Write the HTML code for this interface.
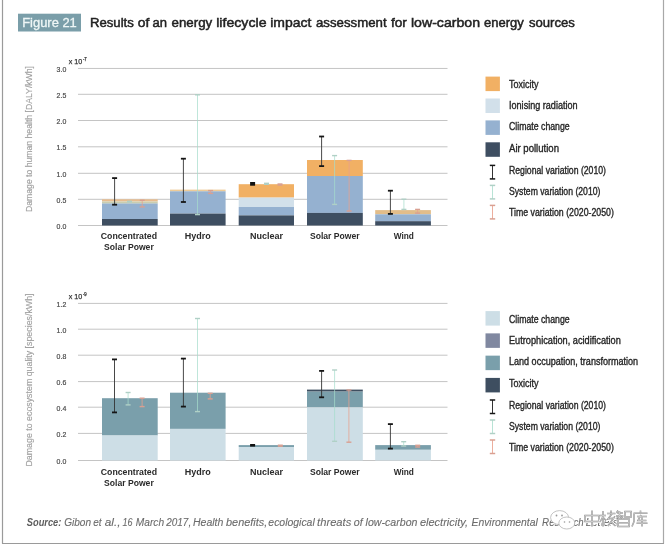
<!DOCTYPE html>
<html><head><meta charset="utf-8"><style>
html,body{margin:0;padding:0;background:#fff;width:668px;height:549px;overflow:hidden}
svg{display:block;font-family:"Liberation Sans", sans-serif;will-change:transform}
</style></head><body>
<svg width="668" height="549" viewBox="0 0 668 549">
<line x1="2.5" y1="0" x2="2.5" y2="543.5" stroke="#9a9a9a" stroke-width="1.2"/>
<line x1="663.5" y1="0" x2="663.5" y2="543.5" stroke="#a8a8a8" stroke-width="1.2"/>
<line x1="2" y1="543.5" x2="664" y2="543.5" stroke="#9a9a9a" stroke-width="1.2"/>
<rect x="18" y="13.7" width="63" height="17.8" fill="#7A9EA9"/>
<text x="22.2" y="26.6" font-size="13" font-weight="normal" font-style="normal" fill="#EEF6F6" text-anchor="start" textLength="54.6" lengthAdjust="spacingAndGlyphs" stroke="#EEF6F6" stroke-width="0.3">Figure 21</text>
<text x="89.9" y="26.7" font-size="13.7" font-weight="normal" font-style="normal" fill="#222" text-anchor="start" textLength="43.91" lengthAdjust="spacingAndGlyphs" stroke="#222" stroke-width="0.5">Results</text>
<text x="137.7" y="26.7" font-size="13.7" font-weight="normal" font-style="normal" fill="#222" text-anchor="start" textLength="11.54" lengthAdjust="spacingAndGlyphs" stroke="#222" stroke-width="0.5">of</text>
<text x="152.53" y="26.7" font-size="13.7" font-weight="normal" font-style="normal" fill="#222" text-anchor="start" textLength="14.5" lengthAdjust="spacingAndGlyphs" stroke="#222" stroke-width="0.5">an</text>
<text x="171.52" y="26.7" font-size="13.7" font-weight="normal" font-style="normal" fill="#222" text-anchor="start" textLength="40.7" lengthAdjust="spacingAndGlyphs" stroke="#222" stroke-width="0.5">energy</text>
<text x="216.23" y="26.7" font-size="13.7" font-weight="normal" font-style="normal" fill="#222" text-anchor="start" textLength="50.28" lengthAdjust="spacingAndGlyphs" stroke="#222" stroke-width="0.5">lifecycle</text>
<text x="270.24" y="26.7" font-size="13.7" font-weight="normal" font-style="normal" fill="#222" text-anchor="start" textLength="41.18" lengthAdjust="spacingAndGlyphs" stroke="#222" stroke-width="0.5">impact</text>
<text x="316.02" y="26.7" font-size="13.7" font-weight="normal" font-style="normal" fill="#222" text-anchor="start" textLength="70.6" lengthAdjust="spacingAndGlyphs" stroke="#222" stroke-width="0.5">assessment</text>
<text x="390.95" y="26.7" font-size="13.7" font-weight="normal" font-style="normal" fill="#222" text-anchor="start" textLength="15.94" lengthAdjust="spacingAndGlyphs" stroke="#222" stroke-width="0.5">for</text>
<text x="410.93" y="26.7" font-size="13.7" font-weight="normal" font-style="normal" fill="#222" text-anchor="start" textLength="69.16" lengthAdjust="spacingAndGlyphs" stroke="#222" stroke-width="0.5">low-carbon</text>
<text x="484.03" y="26.7" font-size="13.7" font-weight="normal" font-style="normal" fill="#222" text-anchor="start" textLength="39.79" lengthAdjust="spacingAndGlyphs" stroke="#222" stroke-width="0.5">energy</text>
<text x="528.96" y="26.7" font-size="13.7" font-weight="normal" font-style="normal" fill="#222" text-anchor="start" textLength="45.97" lengthAdjust="spacingAndGlyphs" stroke="#222" stroke-width="0.5">sources</text>
<line x1="78" y1="225.5" x2="447.5" y2="225.5" stroke="#C4C4C4" stroke-width="1"/>
<text x="66.3" y="228.8" font-size="7.6" font-weight="normal" font-style="normal" fill="#4a4a4a" text-anchor="end" textLength="9.7" lengthAdjust="spacingAndGlyphs" stroke="#4a4a4a" stroke-width="0.2">0.0</text>
<line x1="78" y1="199.3" x2="447.5" y2="199.3" stroke="#C4C4C4" stroke-width="1"/>
<text x="66.3" y="202.60000000000002" font-size="7.6" font-weight="normal" font-style="normal" fill="#4a4a4a" text-anchor="end" textLength="9.7" lengthAdjust="spacingAndGlyphs" stroke="#4a4a4a" stroke-width="0.2">0.5</text>
<line x1="78" y1="173.3" x2="447.5" y2="173.3" stroke="#C4C4C4" stroke-width="1"/>
<text x="66.3" y="176.60000000000002" font-size="7.6" font-weight="normal" font-style="normal" fill="#4a4a4a" text-anchor="end" textLength="9.7" lengthAdjust="spacingAndGlyphs" stroke="#4a4a4a" stroke-width="0.2">1.0</text>
<line x1="78" y1="146.8" x2="447.5" y2="146.8" stroke="#C4C4C4" stroke-width="1"/>
<text x="66.3" y="150.10000000000002" font-size="7.6" font-weight="normal" font-style="normal" fill="#4a4a4a" text-anchor="end" textLength="9.7" lengthAdjust="spacingAndGlyphs" stroke="#4a4a4a" stroke-width="0.2">1.5</text>
<line x1="78" y1="120.5" x2="447.5" y2="120.5" stroke="#C4C4C4" stroke-width="1"/>
<text x="66.3" y="123.8" font-size="7.6" font-weight="normal" font-style="normal" fill="#4a4a4a" text-anchor="end" textLength="9.7" lengthAdjust="spacingAndGlyphs" stroke="#4a4a4a" stroke-width="0.2">2.0</text>
<line x1="78" y1="94.3" x2="447.5" y2="94.3" stroke="#C4C4C4" stroke-width="1"/>
<text x="66.3" y="97.6" font-size="7.6" font-weight="normal" font-style="normal" fill="#4a4a4a" text-anchor="end" textLength="9.7" lengthAdjust="spacingAndGlyphs" stroke="#4a4a4a" stroke-width="0.2">2.5</text>
<line x1="78" y1="68.45" x2="447.5" y2="68.45" stroke="#C4C4C4" stroke-width="1"/>
<text x="66.3" y="71.75" font-size="7.6" font-weight="normal" font-style="normal" fill="#4a4a4a" text-anchor="end" textLength="9.7" lengthAdjust="spacingAndGlyphs" stroke="#4a4a4a" stroke-width="0.2">3.0</text>
<text x="68.7" y="64.45" font-size="7.6" font-weight="normal" font-style="normal" fill="#333" text-anchor="start" textLength="13.5" lengthAdjust="spacingAndGlyphs" stroke="#333" stroke-width="0.25">x 10</text>
<text x="82.9" y="61.050000000000004" font-size="5" font-weight="normal" font-style="normal" fill="#333" text-anchor="start" textLength="3.8" lengthAdjust="spacingAndGlyphs" stroke="#333" stroke-width="0.25">-7</text>
<text transform="translate(31.9,139.0) rotate(-90)" x="0" y="0" font-size="9.5" fill="#A0A0A0" stroke="#A0A0A0" stroke-width="0.15" text-anchor="middle" textLength="146" lengthAdjust="spacingAndGlyphs">Damage to human health [DALY/kWh]</text>
<rect x="102.0" y="199.3" width="55.7" height="2.1999999999999886" fill="#E8BC8E"/>
<rect x="102.0" y="201.5" width="55.7" height="2.0999999999999943" fill="#C9CDB0"/>
<rect x="102.0" y="203.5" width="55.7" height="15.5" fill="#95B1D0"/>
<rect x="102.0" y="219.0" width="55.7" height="6.5" fill="#3E4E61"/>
<rect x="170.0" y="189.6" width="55.6" height="1.8000000000000114" fill="#EDCB98"/>
<rect x="170.0" y="191.3" width="55.6" height="22.299999999999983" fill="#95B1D0"/>
<rect x="170.0" y="213.6" width="55.6" height="11.900000000000006" fill="#3E4E61"/>
<rect x="238.7" y="184.2" width="55.3" height="13.400000000000006" fill="#F1B064"/>
<rect x="238.7" y="197.6" width="55.3" height="9.400000000000006" fill="#D2E0EA"/>
<rect x="238.7" y="207.0" width="55.3" height="8.400000000000006" fill="#95B1D0"/>
<rect x="238.7" y="215.4" width="55.3" height="10.099999999999994" fill="#3E4E61"/>
<rect x="307.0" y="160.0" width="55.8" height="16.0" fill="#F1B064"/>
<rect x="307.0" y="176.0" width="55.8" height="36.900000000000006" fill="#95B1D0"/>
<rect x="307.0" y="212.9" width="55.8" height="12.599999999999994" fill="#3E4E61"/>
<rect x="375.2" y="210.1" width="55.7" height="4.200000000000017" fill="#E2BD8A"/>
<rect x="375.2" y="214.3" width="55.7" height="6.899999999999977" fill="#95B1D0"/>
<rect x="375.2" y="221.2" width="55.7" height="4.300000000000011" fill="#3E4E61"/>
<line x1="114.6" y1="178.1" x2="114.6" y2="204.7" stroke="#333333" stroke-width="0.9" stroke-opacity="1"/>
<line x1="112.1" y1="178.1" x2="117.1" y2="178.1" stroke="#151515" stroke-width="1.8"/>
<line x1="112.1" y1="204.7" x2="117.1" y2="204.7" stroke="#151515" stroke-width="1.8"/>
<line x1="129.5" y1="201.3" x2="129.5" y2="202.0" stroke="#A6DCCB" stroke-width="0.9" stroke-opacity="0.8"/>
<line x1="127.0" y1="201.3" x2="132.0" y2="201.3" stroke="#B0D0C6" stroke-width="1.4"/>
<line x1="127.0" y1="202.0" x2="132.0" y2="202.0" stroke="#B0D0C6" stroke-width="1.4"/>
<line x1="142.2" y1="200.3" x2="142.2" y2="206.9" stroke="#E9A08C" stroke-width="0.9" stroke-opacity="0.85"/>
<line x1="139.7" y1="200.3" x2="144.7" y2="200.3" stroke="#D9A092" stroke-width="1.4"/>
<line x1="139.7" y1="206.9" x2="144.7" y2="206.9" stroke="#D9A092" stroke-width="1.4"/>
<line x1="183.4" y1="158.7" x2="183.4" y2="202.0" stroke="#333333" stroke-width="0.9" stroke-opacity="1"/>
<line x1="180.9" y1="158.7" x2="185.9" y2="158.7" stroke="#151515" stroke-width="1.8"/>
<line x1="180.9" y1="202.0" x2="185.9" y2="202.0" stroke="#151515" stroke-width="1.8"/>
<line x1="197.5" y1="94.8" x2="197.5" y2="214.6" stroke="#A6DCCB" stroke-width="0.9" stroke-opacity="0.8"/>
<line x1="195.0" y1="94.8" x2="200.0" y2="94.8" stroke="#B0D0C6" stroke-width="1.4"/>
<line x1="195.0" y1="214.6" x2="200.0" y2="214.6" stroke="#B0D0C6" stroke-width="1.4"/>
<line x1="210.6" y1="190.6" x2="210.6" y2="193.4" stroke="#E9A08C" stroke-width="0.9" stroke-opacity="0.85"/>
<line x1="208.1" y1="190.6" x2="213.1" y2="190.6" stroke="#D9A092" stroke-width="1.4"/>
<line x1="208.1" y1="193.4" x2="213.1" y2="193.4" stroke="#D9A092" stroke-width="1.4"/>
<rect x="250.1" y="182.0" width="5" height="3.7" fill="#111"/>
<line x1="266.5" y1="183.3" x2="266.5" y2="184.3" stroke="#A6DCCB" stroke-width="0.9" stroke-opacity="0.8"/>
<line x1="264.0" y1="183.3" x2="269.0" y2="183.3" stroke="#B0D0C6" stroke-width="1.4"/>
<line x1="264.0" y1="184.3" x2="269.0" y2="184.3" stroke="#B0D0C6" stroke-width="1.4"/>
<line x1="280.0" y1="184.0" x2="280.0" y2="185.0" stroke="#E9A08C" stroke-width="0.9" stroke-opacity="0.85"/>
<line x1="277.5" y1="184.0" x2="282.5" y2="184.0" stroke="#D9A092" stroke-width="1.4"/>
<line x1="277.5" y1="185.0" x2="282.5" y2="185.0" stroke="#D9A092" stroke-width="1.4"/>
<line x1="321.6" y1="136.5" x2="321.6" y2="166.1" stroke="#333333" stroke-width="0.9" stroke-opacity="1"/>
<line x1="319.1" y1="136.5" x2="324.1" y2="136.5" stroke="#151515" stroke-width="1.8"/>
<line x1="319.1" y1="166.1" x2="324.1" y2="166.1" stroke="#151515" stroke-width="1.8"/>
<line x1="334.6" y1="155.6" x2="334.6" y2="204.4" stroke="#A6DCCB" stroke-width="0.9" stroke-opacity="0.8"/>
<line x1="332.1" y1="155.6" x2="337.1" y2="155.6" stroke="#B0D0C6" stroke-width="1.4"/>
<line x1="332.1" y1="204.4" x2="337.1" y2="204.4" stroke="#B0D0C6" stroke-width="1.4"/>
<line x1="349.1" y1="160.4" x2="349.1" y2="211.0" stroke="#E9A08C" stroke-width="0.9" stroke-opacity="0.85"/>
<line x1="346.6" y1="160.4" x2="351.6" y2="160.4" stroke="#D9A092" stroke-width="1.4"/>
<line x1="346.6" y1="211.0" x2="351.6" y2="211.0" stroke="#D9A092" stroke-width="1.4"/>
<line x1="390.4" y1="190.7" x2="390.4" y2="213.9" stroke="#333333" stroke-width="0.9" stroke-opacity="1"/>
<line x1="387.9" y1="190.7" x2="392.9" y2="190.7" stroke="#151515" stroke-width="1.8"/>
<line x1="387.9" y1="213.9" x2="392.9" y2="213.9" stroke="#151515" stroke-width="1.8"/>
<line x1="403.9" y1="199.2" x2="403.9" y2="209.4" stroke="#A6DCCB" stroke-width="0.9" stroke-opacity="0.8"/>
<line x1="401.4" y1="199.2" x2="406.4" y2="199.2" stroke="#B0D0C6" stroke-width="1.4"/>
<line x1="401.4" y1="209.4" x2="406.4" y2="209.4" stroke="#B0D0C6" stroke-width="1.4"/>
<line x1="417.6" y1="209.4" x2="417.6" y2="213.1" stroke="#E9A08C" stroke-width="0.9" stroke-opacity="0.85"/>
<line x1="415.1" y1="209.4" x2="420.1" y2="209.4" stroke="#D9A092" stroke-width="1.4"/>
<line x1="415.1" y1="213.1" x2="420.1" y2="213.1" stroke="#D9A092" stroke-width="1.4"/>
<text x="128.9" y="238.8" font-size="9.3" font-weight="bold" font-style="normal" fill="#2a2a2a" text-anchor="middle" textLength="56.3" lengthAdjust="spacingAndGlyphs">Concentrated</text>
<text x="128.9" y="249.5" font-size="9.3" font-weight="bold" font-style="normal" fill="#2a2a2a" text-anchor="middle" textLength="49.7" lengthAdjust="spacingAndGlyphs">Solar Power</text>
<text x="197.8" y="238.8" font-size="9.3" font-weight="bold" font-style="normal" fill="#2a2a2a" text-anchor="middle" textLength="26" lengthAdjust="spacingAndGlyphs">Hydro</text>
<text x="266.5" y="238.8" font-size="9.3" font-weight="bold" font-style="normal" fill="#2a2a2a" text-anchor="middle" textLength="33" lengthAdjust="spacingAndGlyphs">Nuclear</text>
<text x="334.8" y="238.8" font-size="9.3" font-weight="bold" font-style="normal" fill="#2a2a2a" text-anchor="middle" textLength="49.7" lengthAdjust="spacingAndGlyphs">Solar Power</text>
<text x="403.8" y="238.8" font-size="9.3" font-weight="bold" font-style="normal" fill="#2a2a2a" text-anchor="middle" textLength="20.2" lengthAdjust="spacingAndGlyphs">Wind</text>
<rect x="485.5" y="76.6" width="14.4" height="14.5" fill="#F1B064"/>
<text x="509" y="87.7" font-size="10.1" font-weight="normal" font-style="normal" fill="#262626" text-anchor="start" textLength="29.6" lengthAdjust="spacingAndGlyphs" stroke="#262626" stroke-width="0.35">Toxicity</text>
<rect x="485.5" y="98.5" width="14.4" height="14.5" fill="#D2E0EA"/>
<text x="509" y="109.07000000000001" font-size="10.1" font-weight="normal" font-style="normal" fill="#262626" text-anchor="start" textLength="68.6" lengthAdjust="spacingAndGlyphs" stroke="#262626" stroke-width="0.35">Ionising radiation</text>
<rect x="485.5" y="120.39999999999999" width="14.4" height="14.5" fill="#95B1D0"/>
<text x="509" y="130.44" font-size="10.1" font-weight="normal" font-style="normal" fill="#262626" text-anchor="start" textLength="60.7" lengthAdjust="spacingAndGlyphs" stroke="#262626" stroke-width="0.35">Climate change</text>
<rect x="485.5" y="142.29999999999998" width="14.4" height="14.5" fill="#3E4E61"/>
<text x="509" y="151.81" font-size="10.1" font-weight="normal" font-style="normal" fill="#262626" text-anchor="start" textLength="50" lengthAdjust="spacingAndGlyphs" stroke="#262626" stroke-width="0.35">Air pollution</text>
<line x1="492.5" y1="165.4" x2="492.5" y2="178.9" stroke="#333333" stroke-width="1.0" stroke-opacity="1"/>
<line x1="489.8" y1="165.4" x2="495.2" y2="165.4" stroke="#151515" stroke-width="1.5"/>
<line x1="489.8" y1="178.9" x2="495.2" y2="178.9" stroke="#151515" stroke-width="1.5"/>
<text x="509" y="173.8" font-size="10.1" font-weight="normal" font-style="normal" fill="#262626" text-anchor="start" textLength="97" lengthAdjust="spacingAndGlyphs" stroke="#262626" stroke-width="0.35">Regional variation (2010)</text>
<line x1="492.5" y1="185.4" x2="492.5" y2="198.9" stroke="#A6DCCB" stroke-width="1.0" stroke-opacity="0.8"/>
<line x1="489.8" y1="185.4" x2="495.2" y2="185.4" stroke="#B0D0C6" stroke-width="1.5"/>
<line x1="489.8" y1="198.9" x2="495.2" y2="198.9" stroke="#B0D0C6" stroke-width="1.5"/>
<text x="509" y="194.75" font-size="10.1" font-weight="normal" font-style="normal" fill="#262626" text-anchor="start" textLength="91.4" lengthAdjust="spacingAndGlyphs" stroke="#262626" stroke-width="0.35">System variation (2010)</text>
<line x1="492.5" y1="205.4" x2="492.5" y2="218.9" stroke="#E9A08C" stroke-width="1.0" stroke-opacity="0.85"/>
<line x1="489.8" y1="205.4" x2="495.2" y2="205.4" stroke="#D9A092" stroke-width="1.5"/>
<line x1="489.8" y1="218.9" x2="495.2" y2="218.9" stroke="#D9A092" stroke-width="1.5"/>
<text x="509" y="215.70000000000002" font-size="10.1" font-weight="normal" font-style="normal" fill="#262626" text-anchor="start" textLength="104.9" lengthAdjust="spacingAndGlyphs" stroke="#262626" stroke-width="0.35">Time variation (2020-2050)</text>
<line x1="78" y1="460.5" x2="447.5" y2="460.5" stroke="#C4C4C4" stroke-width="1"/>
<text x="66.3" y="463.8" font-size="7.6" font-weight="normal" font-style="normal" fill="#4a4a4a" text-anchor="end" textLength="9.7" lengthAdjust="spacingAndGlyphs" stroke="#4a4a4a" stroke-width="0.2">0.0</text>
<line x1="78" y1="433.4" x2="447.5" y2="433.4" stroke="#C4C4C4" stroke-width="1"/>
<text x="66.3" y="436.7" font-size="7.6" font-weight="normal" font-style="normal" fill="#4a4a4a" text-anchor="end" textLength="9.7" lengthAdjust="spacingAndGlyphs" stroke="#4a4a4a" stroke-width="0.2">0.2</text>
<line x1="78" y1="407.2" x2="447.5" y2="407.2" stroke="#C4C4C4" stroke-width="1"/>
<text x="66.3" y="410.5" font-size="7.6" font-weight="normal" font-style="normal" fill="#4a4a4a" text-anchor="end" textLength="9.7" lengthAdjust="spacingAndGlyphs" stroke="#4a4a4a" stroke-width="0.2">0.4</text>
<line x1="78" y1="381.6" x2="447.5" y2="381.6" stroke="#C4C4C4" stroke-width="1"/>
<text x="66.3" y="384.90000000000003" font-size="7.6" font-weight="normal" font-style="normal" fill="#4a4a4a" text-anchor="end" textLength="9.7" lengthAdjust="spacingAndGlyphs" stroke="#4a4a4a" stroke-width="0.2">0.6</text>
<line x1="78" y1="355.2" x2="447.5" y2="355.2" stroke="#C4C4C4" stroke-width="1"/>
<text x="66.3" y="358.5" font-size="7.6" font-weight="normal" font-style="normal" fill="#4a4a4a" text-anchor="end" textLength="9.7" lengthAdjust="spacingAndGlyphs" stroke="#4a4a4a" stroke-width="0.2">0.8</text>
<line x1="78" y1="329.2" x2="447.5" y2="329.2" stroke="#C4C4C4" stroke-width="1"/>
<text x="66.3" y="332.5" font-size="7.6" font-weight="normal" font-style="normal" fill="#4a4a4a" text-anchor="end" textLength="9.7" lengthAdjust="spacingAndGlyphs" stroke="#4a4a4a" stroke-width="0.2">1.0</text>
<line x1="78" y1="303.4" x2="447.5" y2="303.4" stroke="#C4C4C4" stroke-width="1"/>
<text x="66.3" y="306.7" font-size="7.6" font-weight="normal" font-style="normal" fill="#4a4a4a" text-anchor="end" textLength="9.7" lengthAdjust="spacingAndGlyphs" stroke="#4a4a4a" stroke-width="0.2">1.2</text>
<text x="68.7" y="299.4" font-size="7.6" font-weight="normal" font-style="normal" fill="#333" text-anchor="start" textLength="13.5" lengthAdjust="spacingAndGlyphs" stroke="#333" stroke-width="0.25">x 10</text>
<text x="82.9" y="296.0" font-size="5" font-weight="normal" font-style="normal" fill="#333" text-anchor="start" textLength="3.8" lengthAdjust="spacingAndGlyphs" stroke="#333" stroke-width="0.25">-9</text>
<text transform="translate(31.9,380.0) rotate(-90)" x="0" y="0" font-size="9.5" fill="#A0A0A0" stroke="#A0A0A0" stroke-width="0.15" text-anchor="middle" textLength="173" lengthAdjust="spacingAndGlyphs">Damage to ecosystem quality [species/kWh]</text>
<rect x="102.0" y="398.2" width="55.7" height="37.30000000000001" fill="#7A9FAB"/>
<rect x="102.0" y="435.5" width="55.7" height="25.0" fill="#CDDEE6"/>
<rect x="170.0" y="392.7" width="55.6" height="36.19999999999999" fill="#7A9FAB"/>
<rect x="170.0" y="428.9" width="55.6" height="31.600000000000023" fill="#CDDEE6"/>
<rect x="238.7" y="445.1" width="55.3" height="1.8999999999999773" fill="#7A9FAB"/>
<rect x="238.7" y="447.0" width="55.3" height="13.5" fill="#CDDEE6"/>
<rect x="307.0" y="389.6" width="55.8" height="2.0" fill="#3E4E60"/>
<rect x="307.0" y="391.6" width="55.8" height="15.799999999999955" fill="#7A9FAB"/>
<rect x="307.0" y="407.4" width="55.8" height="53.10000000000002" fill="#CDDEE6"/>
<rect x="375.2" y="445.1" width="55.7" height="4.699999999999989" fill="#7A9FAB"/>
<rect x="375.2" y="449.8" width="55.7" height="10.699999999999989" fill="#CDDEE6"/>
<line x1="114.5" y1="359.4" x2="114.5" y2="412.4" stroke="#333333" stroke-width="0.9" stroke-opacity="1"/>
<line x1="112.0" y1="359.4" x2="117.0" y2="359.4" stroke="#151515" stroke-width="1.8"/>
<line x1="112.0" y1="412.4" x2="117.0" y2="412.4" stroke="#151515" stroke-width="1.8"/>
<line x1="128.1" y1="392.5" x2="128.1" y2="404.9" stroke="#A6DCCB" stroke-width="0.9" stroke-opacity="0.8"/>
<line x1="125.6" y1="392.5" x2="130.6" y2="392.5" stroke="#B0D0C6" stroke-width="1.4"/>
<line x1="125.6" y1="404.9" x2="130.6" y2="404.9" stroke="#B0D0C6" stroke-width="1.4"/>
<line x1="142.1" y1="398.2" x2="142.1" y2="406.6" stroke="#E9A08C" stroke-width="0.9" stroke-opacity="0.85"/>
<line x1="139.6" y1="398.2" x2="144.6" y2="398.2" stroke="#D9A092" stroke-width="1.4"/>
<line x1="139.6" y1="406.6" x2="144.6" y2="406.6" stroke="#D9A092" stroke-width="1.4"/>
<line x1="183.4" y1="358.6" x2="183.4" y2="406.6" stroke="#333333" stroke-width="0.9" stroke-opacity="1"/>
<line x1="180.9" y1="358.6" x2="185.9" y2="358.6" stroke="#151515" stroke-width="1.8"/>
<line x1="180.9" y1="406.6" x2="185.9" y2="406.6" stroke="#151515" stroke-width="1.8"/>
<line x1="197.5" y1="318.5" x2="197.5" y2="411.6" stroke="#A6DCCB" stroke-width="0.9" stroke-opacity="0.8"/>
<line x1="195.0" y1="318.5" x2="200.0" y2="318.5" stroke="#B0D0C6" stroke-width="1.4"/>
<line x1="195.0" y1="411.6" x2="200.0" y2="411.6" stroke="#B0D0C6" stroke-width="1.4"/>
<line x1="210.2" y1="393.3" x2="210.2" y2="398.9" stroke="#E9A08C" stroke-width="0.9" stroke-opacity="0.85"/>
<line x1="207.7" y1="393.3" x2="212.7" y2="393.3" stroke="#D9A092" stroke-width="1.4"/>
<line x1="207.7" y1="398.9" x2="212.7" y2="398.9" stroke="#D9A092" stroke-width="1.4"/>
<rect x="250.1" y="444.0" width="5" height="2.6" fill="#111"/>
<line x1="280.3" y1="445.2" x2="280.3" y2="446.2" stroke="#E9A08C" stroke-width="0.9" stroke-opacity="0.85"/>
<line x1="277.8" y1="445.2" x2="282.8" y2="445.2" stroke="#D9A092" stroke-width="1.4"/>
<line x1="277.8" y1="446.2" x2="282.8" y2="446.2" stroke="#D9A092" stroke-width="1.4"/>
<line x1="321.6" y1="370.9" x2="321.6" y2="397.3" stroke="#333333" stroke-width="0.9" stroke-opacity="1"/>
<line x1="319.1" y1="370.9" x2="324.1" y2="370.9" stroke="#151515" stroke-width="1.8"/>
<line x1="319.1" y1="397.3" x2="324.1" y2="397.3" stroke="#151515" stroke-width="1.8"/>
<line x1="334.6" y1="370.0" x2="334.6" y2="441.3" stroke="#A6DCCB" stroke-width="0.9" stroke-opacity="0.8"/>
<line x1="332.1" y1="370.0" x2="337.1" y2="370.0" stroke="#B0D0C6" stroke-width="1.4"/>
<line x1="332.1" y1="441.3" x2="337.1" y2="441.3" stroke="#B0D0C6" stroke-width="1.4"/>
<line x1="348.9" y1="390.0" x2="348.9" y2="442.2" stroke="#E9A08C" stroke-width="0.9" stroke-opacity="0.85"/>
<line x1="346.4" y1="390.0" x2="351.4" y2="390.0" stroke="#D9A092" stroke-width="1.4"/>
<line x1="346.4" y1="442.2" x2="351.4" y2="442.2" stroke="#D9A092" stroke-width="1.4"/>
<line x1="390.4" y1="424.1" x2="390.4" y2="448.6" stroke="#333333" stroke-width="0.9" stroke-opacity="1"/>
<line x1="387.9" y1="424.1" x2="392.9" y2="424.1" stroke="#151515" stroke-width="1.8"/>
<line x1="387.9" y1="448.6" x2="392.9" y2="448.6" stroke="#151515" stroke-width="1.8"/>
<line x1="403.7" y1="441.7" x2="403.7" y2="446.0" stroke="#A6DCCB" stroke-width="0.9" stroke-opacity="0.8"/>
<line x1="401.2" y1="441.7" x2="406.2" y2="441.7" stroke="#B0D0C6" stroke-width="1.4"/>
<line x1="401.2" y1="446.0" x2="406.2" y2="446.0" stroke="#B0D0C6" stroke-width="1.4"/>
<line x1="417.7" y1="445.3" x2="417.7" y2="447.0" stroke="#E9A08C" stroke-width="0.9" stroke-opacity="0.85"/>
<line x1="415.2" y1="445.3" x2="420.2" y2="445.3" stroke="#D9A092" stroke-width="1.4"/>
<line x1="415.2" y1="447.0" x2="420.2" y2="447.0" stroke="#D9A092" stroke-width="1.4"/>
<text x="128.9" y="475.3" font-size="9.3" font-weight="bold" font-style="normal" fill="#2a2a2a" text-anchor="middle" textLength="56.3" lengthAdjust="spacingAndGlyphs">Concentrated</text>
<text x="128.9" y="486.0" font-size="9.3" font-weight="bold" font-style="normal" fill="#2a2a2a" text-anchor="middle" textLength="49.7" lengthAdjust="spacingAndGlyphs">Solar Power</text>
<text x="197.8" y="475.3" font-size="9.3" font-weight="bold" font-style="normal" fill="#2a2a2a" text-anchor="middle" textLength="26" lengthAdjust="spacingAndGlyphs">Hydro</text>
<text x="266.5" y="475.3" font-size="9.3" font-weight="bold" font-style="normal" fill="#2a2a2a" text-anchor="middle" textLength="33" lengthAdjust="spacingAndGlyphs">Nuclear</text>
<text x="334.8" y="475.3" font-size="9.3" font-weight="bold" font-style="normal" fill="#2a2a2a" text-anchor="middle" textLength="49.7" lengthAdjust="spacingAndGlyphs">Solar Power</text>
<text x="403.8" y="475.3" font-size="9.3" font-weight="bold" font-style="normal" fill="#2a2a2a" text-anchor="middle" textLength="20.2" lengthAdjust="spacingAndGlyphs">Wind</text>
<rect x="485.5" y="311.1" width="14.4" height="14.5" fill="#CDDEE6"/>
<text x="509" y="322.6" font-size="10.1" font-weight="normal" font-style="normal" fill="#262626" text-anchor="start" textLength="60.6" lengthAdjust="spacingAndGlyphs" stroke="#262626" stroke-width="0.35">Climate change</text>
<rect x="485.5" y="333.37" width="14.4" height="14.5" fill="#8088A0"/>
<text x="509" y="343.90000000000003" font-size="10.1" font-weight="normal" font-style="normal" fill="#262626" text-anchor="start" textLength="111.8" lengthAdjust="spacingAndGlyphs" stroke="#262626" stroke-width="0.35">Eutrophication, acidification</text>
<rect x="485.5" y="355.64000000000004" width="14.4" height="14.5" fill="#7A9FAB"/>
<text x="509" y="365.20000000000005" font-size="10.1" font-weight="normal" font-style="normal" fill="#262626" text-anchor="start" textLength="129.1" lengthAdjust="spacingAndGlyphs" stroke="#262626" stroke-width="0.35">Land occupation, transformation</text>
<rect x="485.5" y="377.91" width="14.4" height="14.5" fill="#3E4E60"/>
<text x="509" y="386.5" font-size="10.1" font-weight="normal" font-style="normal" fill="#262626" text-anchor="start" textLength="29.6" lengthAdjust="spacingAndGlyphs" stroke="#262626" stroke-width="0.35">Toxicity</text>
<line x1="492.5" y1="400.0" x2="492.5" y2="413.5" stroke="#333333" stroke-width="1.0" stroke-opacity="1"/>
<line x1="489.8" y1="400.0" x2="495.2" y2="400.0" stroke="#151515" stroke-width="1.5"/>
<line x1="489.8" y1="413.5" x2="495.2" y2="413.5" stroke="#151515" stroke-width="1.5"/>
<text x="509" y="408.5" font-size="10.1" font-weight="normal" font-style="normal" fill="#262626" text-anchor="start" textLength="97" lengthAdjust="spacingAndGlyphs" stroke="#262626" stroke-width="0.35">Regional variation (2010)</text>
<line x1="492.5" y1="420.0" x2="492.5" y2="433.5" stroke="#A6DCCB" stroke-width="1.0" stroke-opacity="0.8"/>
<line x1="489.8" y1="420.0" x2="495.2" y2="420.0" stroke="#B0D0C6" stroke-width="1.5"/>
<line x1="489.8" y1="433.5" x2="495.2" y2="433.5" stroke="#B0D0C6" stroke-width="1.5"/>
<text x="509" y="429.6" font-size="10.1" font-weight="normal" font-style="normal" fill="#262626" text-anchor="start" textLength="91.4" lengthAdjust="spacingAndGlyphs" stroke="#262626" stroke-width="0.35">System variation (2010)</text>
<line x1="492.5" y1="440.0" x2="492.5" y2="453.5" stroke="#E9A08C" stroke-width="1.0" stroke-opacity="0.85"/>
<line x1="489.8" y1="440.0" x2="495.2" y2="440.0" stroke="#D9A092" stroke-width="1.5"/>
<line x1="489.8" y1="453.5" x2="495.2" y2="453.5" stroke="#D9A092" stroke-width="1.5"/>
<text x="509" y="450.7" font-size="10.1" font-weight="normal" font-style="normal" fill="#262626" text-anchor="start" textLength="104.9" lengthAdjust="spacingAndGlyphs" stroke="#262626" stroke-width="0.35">Time variation (2020-2050)</text>
<text x="26.76" y="526.0" font-size="10" font-weight="bold" font-style="italic" fill="#5e5e5e" text-anchor="start" textLength="34.64" lengthAdjust="spacingAndGlyphs">Source:</text>
<text x="64.2" y="526.0" font-size="10" font-weight="normal" font-style="italic" fill="#6b6b6b" text-anchor="start" textLength="26.89" lengthAdjust="spacingAndGlyphs" stroke="#6b6b6b" stroke-width="0.1">Gibon</text>
<text x="93.35" y="526.0" font-size="10" font-weight="normal" font-style="italic" fill="#6b6b6b" text-anchor="start" textLength="8.29" lengthAdjust="spacingAndGlyphs" stroke="#6b6b6b" stroke-width="0.1">et</text>
<text x="104.76" y="526.0" font-size="10" font-weight="normal" font-style="italic" fill="#6b6b6b" text-anchor="start" textLength="15.74" lengthAdjust="spacingAndGlyphs" stroke="#6b6b6b" stroke-width="0.1">al.,</text>
<text x="122.57" y="526.0" font-size="10" font-weight="normal" font-style="italic" fill="#6b6b6b" text-anchor="start" textLength="10.05" lengthAdjust="spacingAndGlyphs" stroke="#6b6b6b" stroke-width="0.1">16</text>
<text x="135.79" y="526.0" font-size="10" font-weight="normal" font-style="italic" fill="#6b6b6b" text-anchor="start" textLength="28.3" lengthAdjust="spacingAndGlyphs" stroke="#6b6b6b" stroke-width="0.1">March</text>
<text x="166.25" y="526.0" font-size="10" font-weight="normal" font-style="italic" fill="#6b6b6b" text-anchor="start" textLength="24.92" lengthAdjust="spacingAndGlyphs" stroke="#6b6b6b" stroke-width="0.1">2017,</text>
<text x="192.98" y="526.0" font-size="10" font-weight="normal" font-style="italic" fill="#6b6b6b" text-anchor="start" textLength="30.4" lengthAdjust="spacingAndGlyphs" stroke="#6b6b6b" stroke-width="0.1">Health</text>
<text x="226.04" y="526.0" font-size="10" font-weight="normal" font-style="italic" fill="#6b6b6b" text-anchor="start" textLength="41.22" lengthAdjust="spacingAndGlyphs" stroke="#6b6b6b" stroke-width="0.1">benefits,</text>
<text x="268.33" y="526.0" font-size="10" font-weight="normal" font-style="italic" fill="#6b6b6b" text-anchor="start" textLength="46.43" lengthAdjust="spacingAndGlyphs" stroke="#6b6b6b" stroke-width="0.1">ecological</text>
<text x="317.1" y="526.0" font-size="10" font-weight="normal" font-style="italic" fill="#6b6b6b" text-anchor="start" textLength="34.15" lengthAdjust="spacingAndGlyphs" stroke="#6b6b6b" stroke-width="0.1">threats</text>
<text x="353.78" y="526.0" font-size="10" font-weight="normal" font-style="italic" fill="#6b6b6b" text-anchor="start" textLength="8.9" lengthAdjust="spacingAndGlyphs" stroke="#6b6b6b" stroke-width="0.1">of</text>
<text x="365.64" y="526.0" font-size="10" font-weight="normal" font-style="italic" fill="#6b6b6b" text-anchor="start" textLength="51.85" lengthAdjust="spacingAndGlyphs" stroke="#6b6b6b" stroke-width="0.1">low-carbon</text>
<text x="419.92" y="526.0" font-size="10" font-weight="normal" font-style="italic" fill="#6b6b6b" text-anchor="start" textLength="48.06" lengthAdjust="spacingAndGlyphs" stroke="#6b6b6b" stroke-width="0.1">electricity,</text>
<text x="471.49" y="526.0" font-size="10" font-weight="normal" font-style="italic" fill="#6b6b6b" text-anchor="start" textLength="66.28" lengthAdjust="spacingAndGlyphs" stroke="#6b6b6b" stroke-width="0.1">Environmental</text>
<text x="542.11" y="526.0" font-size="10" font-weight="normal" font-style="italic" fill="#6b6b6b" text-anchor="start" textLength="41.63" lengthAdjust="spacingAndGlyphs" stroke="#6b6b6b" stroke-width="0.1">Research</text>
<text x="585.88" y="526.0" font-size="10" font-weight="normal" font-style="italic" fill="#6b6b6b" text-anchor="start" textLength="32.15" lengthAdjust="spacingAndGlyphs" stroke="#6b6b6b" stroke-width="0.1">Letters</text>
<g fill="#fff" stroke="#b4b4b4" stroke-width="0.8"><ellipse cx="559.6" cy="517.6" rx="9" ry="7"/><ellipse cx="566.8" cy="523" rx="8" ry="6"/></g>
<g fill="#9a9a9a"><circle cx="556.5" cy="515.5" r="0.9"/><circle cx="562" cy="515.5" r="0.9"/><circle cx="564.5" cy="522" r="0.8"/><circle cx="569.5" cy="522" r="0.8"/></g>
<g transform="translate(584,510.5) scale(1.0)" fill="none" stroke-linecap="butt"><path d="M1 5 H15 V11 H1 Z M8 0 V16" stroke="#ffffff" stroke-width="3.0"/><path d="M1 5 H15 V11 H1 Z M8 0 V16" stroke="#858585" stroke-width="1.5"/><path d="M1 5 H15 V11 H1 Z M8 0 V16" stroke="#f6f6f6" stroke-width="0.5"/></g>
<g transform="translate(599.5,510.5) scale(1.0)" fill="none" stroke-linecap="butt"><path d="M0.5 5 H6.5 M3.5 0.5 V16 M3.5 6 L0.5 11.5 M3.7 7 L6.5 10 M11.5 0 V2.2 M7.5 3 H16 M12.5 3.2 L8.5 8.5 L14.5 7.5 M15.5 5.8 L8.5 15.5 M11.5 11.5 L16 15.5" stroke="#ffffff" stroke-width="3.0"/><path d="M0.5 5 H6.5 M3.5 0.5 V16 M3.5 6 L0.5 11.5 M3.7 7 L6.5 10 M11.5 0 V2.2 M7.5 3 H16 M12.5 3.2 L8.5 8.5 L14.5 7.5 M15.5 5.8 L8.5 15.5 M11.5 11.5 L16 15.5" stroke="#858585" stroke-width="1.5"/><path d="M0.5 5 H6.5 M3.5 0.5 V16 M3.5 6 L0.5 11.5 M3.7 7 L6.5 10 M11.5 0 V2.2 M7.5 3 H16 M12.5 3.2 L8.5 8.5 L14.5 7.5 M15.5 5.8 L8.5 15.5 M11.5 11.5 L16 15.5" stroke="#f6f6f6" stroke-width="0.5"/></g>
<g transform="translate(615.5,510.5) scale(1.0)" fill="none" stroke-linecap="butt"><path d="M2.5 0 L1 2.5 M1.5 2.5 H7.5 M0.5 5.5 H8 M4 0.5 V5.5 L0.5 8.5 M4.3 6 L7.5 8 M9.5 1 H15.5 V6.5 H9.5 Z M2.5 8.5 H13.5 V16 H2.5 Z M2.5 12.2 H13.5" stroke="#ffffff" stroke-width="3.0"/><path d="M2.5 0 L1 2.5 M1.5 2.5 H7.5 M0.5 5.5 H8 M4 0.5 V5.5 L0.5 8.5 M4.3 6 L7.5 8 M9.5 1 H15.5 V6.5 H9.5 Z M2.5 8.5 H13.5 V16 H2.5 Z M2.5 12.2 H13.5" stroke="#858585" stroke-width="1.5"/><path d="M2.5 0 L1 2.5 M1.5 2.5 H7.5 M0.5 5.5 H8 M4 0.5 V5.5 L0.5 8.5 M4.3 6 L7.5 8 M9.5 1 H15.5 V6.5 H9.5 Z M2.5 8.5 H13.5 V16 H2.5 Z M2.5 12.2 H13.5" stroke="#f6f6f6" stroke-width="0.5"/></g>
<g transform="translate(631.5,510.5) scale(1.0)" fill="none" stroke-linecap="butt"><path d="M9 0 V2.2 M2 2.8 H16 M2.5 2.8 V11 L0.5 16 M5.5 6 H15.5 M9.5 4.3 L6.5 10 H15 M5 12.8 H16 M10.5 7 V16" stroke="#ffffff" stroke-width="3.0"/><path d="M9 0 V2.2 M2 2.8 H16 M2.5 2.8 V11 L0.5 16 M5.5 6 H15.5 M9.5 4.3 L6.5 10 H15 M5 12.8 H16 M10.5 7 V16" stroke="#858585" stroke-width="1.5"/><path d="M9 0 V2.2 M2 2.8 H16 M2.5 2.8 V11 L0.5 16 M5.5 6 H15.5 M9.5 4.3 L6.5 10 H15 M5 12.8 H16 M10.5 7 V16" stroke="#f6f6f6" stroke-width="0.5"/></g>
</svg>
</body></html>
